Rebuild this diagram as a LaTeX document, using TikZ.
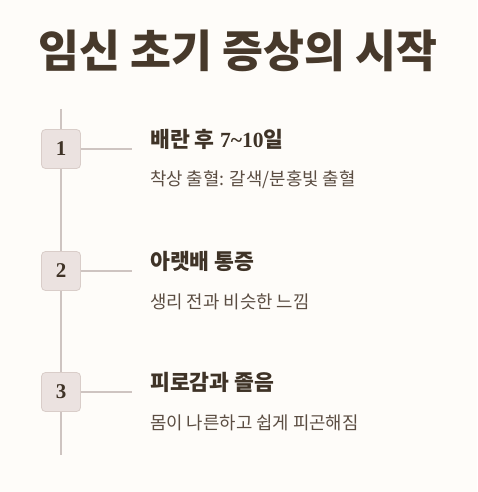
\documentclass[tikz,border=0pt]{standalone}
\usepackage{fontspec}
\setmainfont{Liberation Serif}
\newfontfamily\cjk{Noto Sans CJK KR}
\usetikzlibrary{positioning}
\definecolor{bgcream}{HTML}{FEFCF9}
\definecolor{inkdark}{HTML}{47392B}
\definecolor{inkhead}{HTML}{3F3327}
\definecolor{inksub}{HTML}{5B4D42}
\definecolor{railgray}{HTML}{CEC4C1}
\definecolor{boxfill}{HTML}{EBE2E0}
\definecolor{boxline}{HTML}{D9CDC9}
\tikzset{
  titletext/.style={inner sep=0pt,text=inkdark,font=\cjk\bfseries\fontsize{44.5}{44.5}\selectfont},
  rail/.style={railgray,line width=1.5pt},
  numbox/.style={draw=boxline,fill=boxfill,line width=0.8pt,rounded corners=4pt,
    minimum size=39pt,inner sep=0pt,text=inkhead,font=\bfseries\fontsize{21}{21}\selectfont},
  headtext/.style={anchor=west,inner sep=0pt,text=inkhead,font=\bfseries\fontsize{21.6}{21.6}\selectfont},
  subtext/.style={anchor=west,inner sep=0pt,text=inksub,font=\cjk\fontsize{17.8}{17.8}\selectfont}
}
\begin{document}
\begin{tikzpicture}[x=1pt,y=-1pt]
\fill[bgcream] (0,0) rectangle (477,492);
\useasboundingbox (0,0) rectangle (477,492);
% title
\node[titletext] (title) at (238,51) {임신 초기 증상의 시작};
% timeline rail
\coordinate (railtop) at (61,109);
\coordinate (railbot) at (61,455);
\draw[rail] (railtop) -- (railbot);
% steps
\foreach \n/\y/\head/\sub in {
  1/149/{{\cjk 배란 후} 7\textasciitilde10{\cjk 일}}/{착상 출혈: 갈색/분홍빛 출혈},
  2/271/{{\cjk 아랫배 통증}}/{생리 전과 비슷한 느낌},
  3/392/{{\cjk 피로감과 졸음}}/{몸이 나른하고 쉽게 피곤해짐}}{
  \node[numbox] (box\n) at (61,\y) {\n};
  \coordinate (tick\n) at (132,\y);
  \draw[rail] (box\n) -- (tick\n);
  \node[headtext] (head\n) at (150,\y-10) {\head};
  \node[subtext] (sub\n) at (150,\y+31) {\sub};
}
\end{tikzpicture}
\end{document}
